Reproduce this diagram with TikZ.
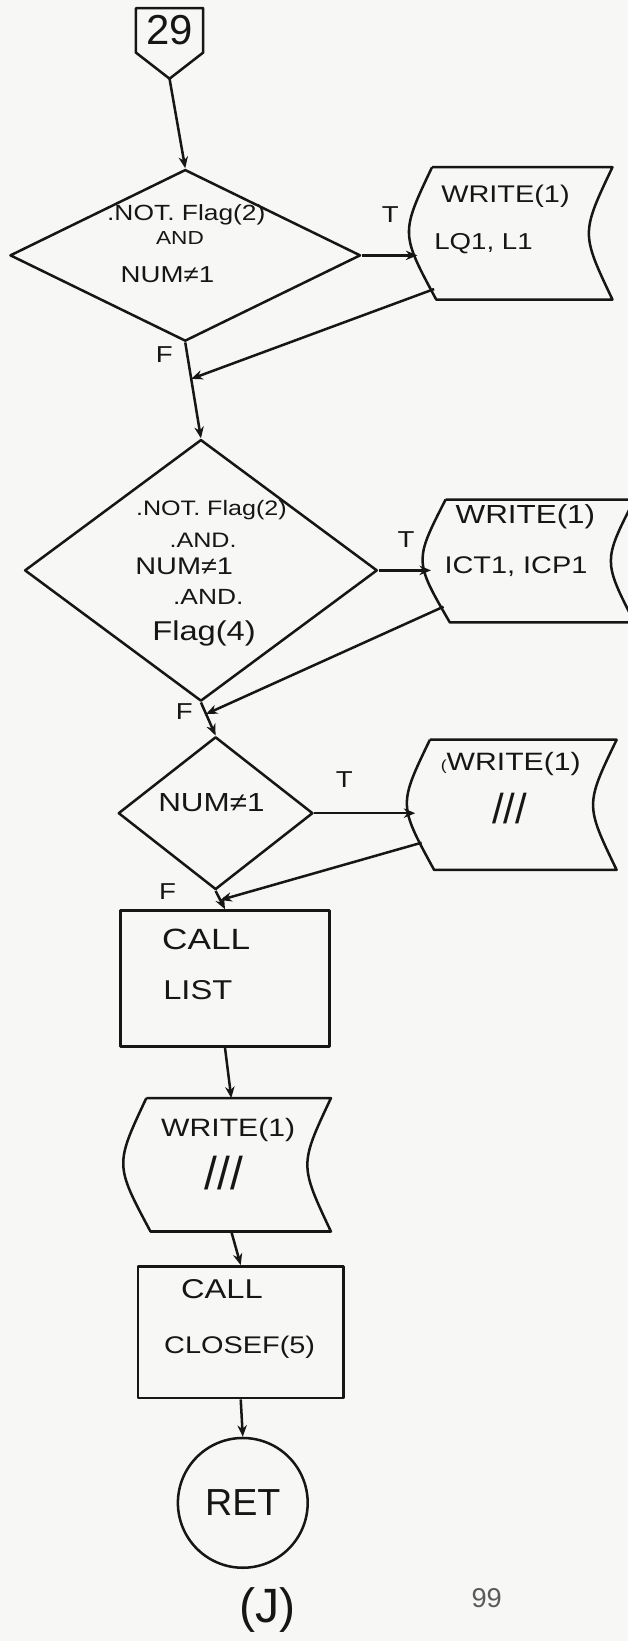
\documentclass[tikz,border=0pt]{standalone}
\usepackage{fontspec}
\setmainfont{Liberation Sans}
\newfontfamily\handfont[FakeStretch=1.2]{Liberation Sans}
\usetikzlibrary{shapes.geometric,arrows.meta,calc}
\definecolor{ink}{RGB}{22,22,22}
\definecolor{paper}{RGB}{247,247,245}
\definecolor{pagenum}{RGB}{90,90,90}
\newcommand{\drawdoc}[1]{%
  \draw[line] ([xshift=14pt]#1.north west) -- (#1.north east)
    .. controls ([xshift=-30pt]#1.east) .. (#1.south east)
    -- ([xshift=18pt]#1.south west)
    .. controls ([xshift=-16pt]#1.west) .. ([xshift=14pt]#1.north west);}
\newcommand{\hs}[1]{\handfont\fontsize{#1}{#1}\selectfont}
\begin{document}
\begin{tikzpicture}[x=1pt,y=-1pt,
  line/.style={draw=ink, line width=2.4pt, line join=round},
  flow/.style={line, -{Stealth[length=11pt,width=9pt]}},
  dia/.style={diamond, line, inner sep=0pt},
  box/.style={rectangle, line, inner sep=0pt},
  docbox/.style={rectangle, draw=none, inner sep=0pt},
  conn/.style={rectangle, draw=none, inner sep=0pt},
  hand/.style={text=ink, inner sep=0pt},
]
\fill[paper] (0,0) rectangle (600,1568);
\useasboundingbox (0,0) rectangle (600,1568);

% off-page connector
\node[conn, minimum width=64pt, minimum height=42pt, font=\fontsize{40}{40}\selectfont, text=ink] (p29) at (162,29) {29};
\draw[line] (p29.north west) -- (p29.north east) -- (p29.south east)
  -- ($(p29.south)+(0,25)$) coordinate (p29tip) -- (p29.south west) -- cycle;

% decision 1
\node[dia, minimum width=335pt, minimum height=164pt] (d1) at (177,244) {};
\node[hand, font=\hs{21}] (d1a) at (178,205) {.NOT. Flag(2)};
\node[hand, font=\hs{18}] (d1b) at (172,227) {AND};
\node[hand, font=\hs{22}] (d1c) at (160,262) {NUM≠1};
\node[hand, font=\hs{22}] (t1) at (373,205) {T};
\node[hand, font=\hs{22}] (f1) at (157,339) {F};

\node[docbox, minimum width=186pt, minimum height=126pt] (w1) at (492,223) {};
\drawdoc{w1}
\node[hand, font=\hs{23}] (w1a) at (483,188) {WRITE(1)};
\node[hand, font=\hs{22}] (w1b) at (462,233) {LQ1, L1};

% decision 2
\node[dia, minimum width=337pt, minimum height=250pt] (d2) at (192,545) {};
\node[hand, font=\hs{20}] (d2a) at (202,487) {.NOT. Flag(2)};
\node[hand, font=\hs{20}] (d2b) at (194,516) {.AND.};
\node[hand, font=\hs{23}] (d2c) at (176,541) {NUM≠1};
\node[hand, font=\hs{21}] (d2d) at (199,570) {.AND.};
\node[hand, font=\hs{26}] (d2e) at (195,605) {Flag(4)};
\node[hand, font=\hs{22}] (t2) at (388,516) {T};
\node[hand, font=\hs{22}] (f2) at (176,680) {F};

\node[docbox, minimum width=194pt, minimum height=117pt] (w2) at (509,536) {};
\drawdoc{w2}
\node[hand, font=\hs{25}] (w2a) at (502,494) {WRITE(1)};
\node[hand, font=\hs{23}] (w2b) at (493,541) {ICT1, ICP1};

% decision 3
\node[dia, minimum width=186pt, minimum height=146pt] (d3) at (206,777) {};
\node[hand, font=\hs{25}] (d3a) at (202,767) {NUM≠1};
\node[hand, font=\hs{22}] (t3) at (329,745) {T};
\node[hand, font=\hs{22}] (f3) at (160,852) {F};

\node[docbox, minimum width=192pt, minimum height=124pt] (w3) at (493,769) {};
\drawdoc{w3}
\node[hand, font=\hs{24}] (w3a) at (488,730) {{\fontsize{14}{14}\selectfont(}WRITE(1)};
\node[hand, font=\fontsize{40}{40}\selectfont] (w3b) at (487,773) {///};

% call list
\node[box, minimum width=200pt, minimum height=130pt] (r1) at (215,935) {};
\node[hand, font=\hs{28}] (r1a) at (197,898) {CALL};
\node[hand, font=\hs{26}] (r1b) at (189,946) {LIST};

\node[docbox, minimum width=190pt, minimum height=127pt] (w4) at (221,1113) {};
\drawdoc{w4}
\node[hand, font=\hs{24}] (w4a) at (218,1080) {WRITE(1)};
\node[hand, font=\fontsize{44}{44}\selectfont] (w4b) at (214,1121) {///};

\node[box, minimum width=196pt, minimum height=126pt] (r2) at (230,1273) {};
\node[hand, font=\hs{26}] (r2a) at (212,1232) {CALL};
\node[hand, font=\hs{23}] (r2b) at (229,1287) {CLOSEF(5)};

\node[circle, line, minimum size=124pt, inner sep=0pt, font=\fontsize{36}{36}\selectfont, text=ink] (ret) at (232,1436) {RET};

\node[hand, font=\fontsize{46}{46}\selectfont] (jlab) at (256,1538) {(J)};
\node[font=\fontsize{26}{26}\selectfont, text=pagenum, inner sep=0pt] (pg) at (465,1527) {99};

% connectors
\draw[flow] (p29tip) -- (d1.north);
\draw[flow] (d1.east) -- (d1.east -| w1.west);
\path (d1.south) -- (d2.north) coordinate[pos=0.38] (m1);
\draw[flow] (d1.south) -- (d2.north);
\draw[flow] ($(w1.south west)+(16,-10)$) -- (m1);

\draw[flow] (d2.east) -- (d2.east -| w2.west);
\path (d2.south) -- (d3.north) coordinate[pos=0.35] (m2);
\draw[flow] (d2.south) -- (d3.north);
\draw[flow] ($(w2.south west)+(12,-15)$) -- (m2);

\draw[flow] (d3.east) -- (d3.east -| w3.west);
\path (d3.south) -- (r1.north) coordinate[pos=0.5] (m3);
\draw[flow] (d3.south) -- (r1.north);
\draw[flow] ($(w3.south west)+(6,-26)$) -- (m3);

\draw[flow] (r1.south) -- (w4.north);
\draw[flow] (w4.south) -- (r2.north);
\draw[flow] (r2.south) -- (ret.north);
\end{tikzpicture}
\end{document}
